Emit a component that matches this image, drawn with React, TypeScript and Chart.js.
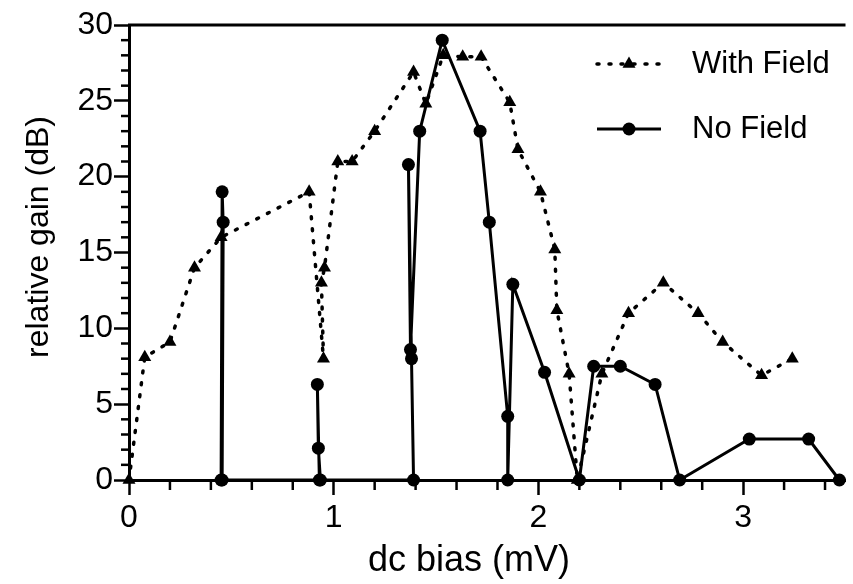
import React, { useEffect, useRef } from 'react';
import { Chart, registerables } from 'chart.js';

Chart.register(...registerables);

// ---- data ----
const withFieldBias = [0, 0.077, 0.2, 0.32, 0.45, 0.88, 0.95, 0.94, 0.955, 1.02, 1.09, 1.2, 1.39, 1.45, 1.535, 1.63, 1.72, 1.86, 1.9, 2.01, 2.08, 2.09, 2.15, 2.19, 2.31, 2.44, 2.61, 2.78, 2.9, 3.09, 3.24];
const withFieldGain = [0, 8.1, 9.1, 14.0, 16.0, 19.0, 8.0, 13.0, 14.0, 21.0, 21.0, 23.0, 26.9, 24.8, 28.0, 27.9, 27.9, 24.9, 21.8, 19.0, 15.2, 11.2, 7.0, 0, 7.0, 11.0, 13.0, 11.0, 9.1, 6.9, 8.0];

const noFieldBias = [0.45, 0.455, 0.46, 0.455, 0.935, 0.925, 0.92, 0.93, 1.39, 1.38, 1.365, 1.375, 1.42, 1.53, 1.715, 1.76, 1.85, 1.85, 1.875, 2.03, 2.2, 2.27, 2.4, 2.57, 2.69, 3.03, 3.32, 3.47];
const noFieldGain = [0, 19.0, 17.0, 0, 0, 2.1, 6.3, 0, 0, 8.0, 20.8, 8.6, 23.0, 29.0, 23.0, 17.0, 4.2, 0, 12.9, 7.1, 0, 7.5, 7.5, 6.3, 0, 2.7, 2.7, 0];

const seriesLabels = ['With Field', 'No Field'];
const xAxisTitle = 'dc bias (mV)';
const yAxisTitle = 'relative gain (dB)';
const xRange = [0, 3.5];
const yRange = [0, 30];
const xMajorStep = 1;
const xMinorStep = 0.2;
const yMajorStep = 5;
const yMinorStep = 1;

const FONT = '"Liberation Sans", Arial, Helvetica, sans-serif';

function drawMarker(ctx: CanvasRenderingContext2D, style: string, x: number, y: number, r: number) {
  ctx.beginPath();
  if (style === 'triangle') {
    let rad = 0;
    ctx.moveTo(x + Math.sin(rad) * r, y - Math.cos(rad) * r);
    rad += (2 * Math.PI) / 3;
    ctx.lineTo(x + Math.sin(rad) * r, y - Math.cos(rad) * r);
    rad += (2 * Math.PI) / 3;
    ctx.lineTo(x + Math.sin(rad) * r, y - Math.cos(rad) * r);
    ctx.closePath();
  } else {
    ctx.arc(x, y, r, 0, Math.PI * 2);
  }
  ctx.fill();
}

const decorPlugin = {
  id: 'decor',
  afterDraw(chart: any) {
    const { ctx, chartArea, scales } = chart;
    const xs = scales.x;
    const ys = scales.y;
    ctx.save();
    ctx.strokeStyle = '#000';
    ctx.fillStyle = '#000';

    // top frame line
    ctx.lineWidth = 3;
    ctx.beginPath();
    ctx.moveTo(chartArea.left - 1, chartArea.top);
    ctx.lineTo(chartArea.right, chartArea.top);
    ctx.stroke();

    // minor ticks
    ctx.lineWidth = 2.5;
    for (let v = yRange[0]; v <= yRange[1] + 1e-9; v += yMinorStep) {
      if (Math.abs(v / yMajorStep - Math.round(v / yMajorStep)) < 1e-6) continue;
      const y = ys.getPixelForValue(v);
      ctx.beginPath();
      ctx.moveTo(chartArea.left - 8, y);
      ctx.lineTo(chartArea.left, y);
      ctx.stroke();
    }
    const nMinor = Math.round((xRange[1] - xRange[0]) / xMinorStep);
    for (let i = 0; i <= nMinor; i++) {
      const v = xRange[0] + i * xMinorStep;
      if (Math.abs(v / xMajorStep - Math.round(v / xMajorStep)) < 1e-6) continue;
      const x = xs.getPixelForValue(v);
      ctx.beginPath();
      ctx.moveTo(x, chartArea.bottom);
      ctx.lineTo(x, chartArea.bottom + 10);
      ctx.stroke();
    }

    // axis titles
    ctx.textAlign = 'center';
    ctx.textBaseline = 'alphabetic';
    ctx.font = `36px ${FONT}`;
    ctx.fillText(xAxisTitle, 469, 571);
    ctx.save();
    ctx.translate(48, 237);
    ctx.rotate(-Math.PI / 2);
    ctx.font = `32px ${FONT}`;
    ctx.fillText(yAxisTitle, 0, 0);
    ctx.restore();

    // legend
    const rows = [64, 129];
    const baselines = [73, 138];
    chart.data.datasets.forEach((ds: any, i: number) => {
      const y = rows[i];
      ctx.save();
      ctx.lineWidth = ds.borderWidth;
      ctx.lineCap = ds.borderCapStyle || 'butt';
      ctx.setLineDash(ds.borderDash || []);
      ctx.beginPath();
      ctx.moveTo(597, y);
      ctx.lineTo(661, y);
      ctx.stroke();
      ctx.setLineDash([]);
      drawMarker(ctx, ds.pointStyle, 629, y, ds.pointRadius);
      ctx.restore();
      ctx.font = `31px ${FONT}`;
      ctx.textAlign = 'left';
      ctx.textBaseline = 'alphabetic';
      ctx.fillText(ds.label, 692, baselines[i]);
    });

    ctx.restore();
  },
};

export default function App() {
  const canvasRef = useRef<HTMLCanvasElement | null>(null);

  useEffect(() => {
    document.body.style.margin = '0';
    const canvas = canvasRef.current;
    if (!canvas) return;
    const withField = withFieldBias.map((x, i) => ({ x, y: withFieldGain[i] }));
    const noField = noFieldBias.map((x, i) => ({ x, y: noFieldGain[i] }));

    const chart = new Chart(canvas, {
      type: 'scatter',
      data: {
        datasets: [
          {
            label: seriesLabels[0],
            data: withField,
            showLine: true,
            borderColor: '#000',
            backgroundColor: '#000',
            borderWidth: 3.5,
            borderDash: [2, 10],
            borderCapStyle: 'round',
            pointStyle: 'triangle',
            pointRadius: 7.5,
            pointBorderWidth: 0,
            tension: 0,
            clip: false,
          } as any,
          {
            label: seriesLabels[1],
            data: noField,
            showLine: true,
            borderColor: '#000',
            backgroundColor: '#000',
            borderWidth: 3,
            pointStyle: 'circle',
            pointRadius: 6.5,
            pointBorderWidth: 0,
            tension: 0,
            clip: false,
          } as any,
        ],
      },
      options: {
        animation: false,
        responsive: true,
        maintainAspectRatio: false,
        layout: { padding: { top: 25, left: 0, right: 0, bottom: 0 } },
        plugins: {
          legend: { display: false },
          tooltip: { enabled: false },
        },
        scales: {
          x: {
            type: 'linear',
            min: xRange[0],
            max: xRange[1],
            ticks: {
              stepSize: xMajorStep,
              color: '#000',
              font: { family: FONT, size: 32 },
              padding: 4,
              maxRotation: 0,
              autoSkip: false,
            },
            afterBuildTicks: (scale: any) => {
              scale.ticks = scale.ticks.filter((t: any) => Math.abs(t.value - Math.round(t.value)) < 1e-6);
            },
            afterFit: (scale: any) => {
              scale.height = 104;
            },
            grid: {
              drawOnChartArea: false,
              drawTicks: true,
              tickLength: 15,
              tickWidth: 2.5,
              tickColor: '#000',
              color: '#000',
            },
            border: { display: true, color: '#000', width: 3 },
          },
          y: {
            type: 'linear',
            min: yRange[0],
            max: yRange[1],
            ticks: {
              stepSize: yMajorStep,
              color: '#000',
              font: { family: FONT, size: 32 },
              padding: 1,
            },
            afterFit: (scale: any) => {
              scale.width = 129;
            },
            grid: {
              drawOnChartArea: false,
              drawTicks: true,
              tickLength: 15,
              tickWidth: 2.5,
              tickColor: '#000',
              color: '#000',
            },
            border: { display: true, color: '#000', width: 3 },
          },
        },
      },
      plugins: [decorPlugin],
    });

    return () => {
      chart.destroy();
    };
  }, []);

  return (
    <div style={{ position: 'absolute', left: 0, top: 0, width: 853, height: 584, background: '#fff' }}>
      <canvas ref={canvasRef} />
    </div>
  );
}
